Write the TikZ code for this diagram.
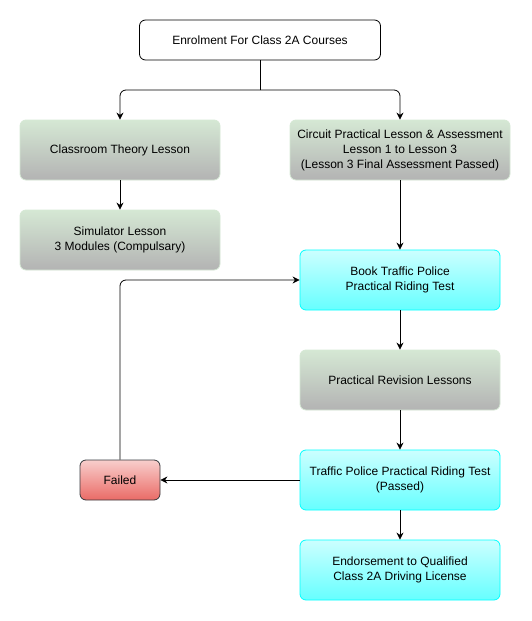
\documentclass[tikz,border=0pt]{standalone}
\usepackage{fontspec}
\setmainfont{Liberation Sans}
\usepackage{tikz}
\usetikzlibrary{arrows.meta, positioning, calc, shapes.misc}

\definecolor{greentop}{HTML}{D5E8D4}
\definecolor{greybottom}{HTML}{B3B3B3}
\definecolor{cyantop}{HTML}{CCFFFF}
\definecolor{cyanbottom}{HTML}{66FFFF}
\definecolor{cyanline}{HTML}{00FFFF}
\definecolor{redtop}{HTML}{F8CECC}
\definecolor{redbottom}{HTML}{EA6B66}
\definecolor{darkline}{HTML}{36393D}

\tikzset{
    box/.style = {rectangle, rounded corners=6pt, align=center, line width=0.8pt,
                  minimum width=200pt, minimum height=60pt, inner sep=0pt,
                  font=\fontsize{12}{15}\selectfont},
    lesson/.style = {box, draw=greentop, top color=greentop, bottom color=greybottom},
    exam/.style = {box, draw=cyanline, top color=cyantop, bottom color=cyanbottom},
    fail/.style = {box, draw=darkline, top color=redtop, bottom color=redbottom,
                   minimum width=80pt, minimum height=40pt},
    flow/.style = {-{Stealth[length=7pt, width=7pt]}, line width=0.8pt, rounded corners=6pt}
}

\begin{document}
\begin{tikzpicture}[x=1pt, y=1pt, node distance = 100pt]
    \useasboundingbox (0,0) rectangle (531,-621);
    \node[box, draw, fill=white, minimum width=241pt, minimum height=40pt] (enrol) at (260,-40) {Enrolment For Class 2A Courses};
    \node[lesson] (theory) at (120,-150) {Classroom Theory Lesson};
    \node[lesson, minimum width=220pt] (circuit) at (400,-150) {Circuit Practical Lesson \& Assessment\\Lesson 1 to Lesson 3\\(Lesson 3 Final Assessment Passed)};
    \node[lesson, below of=theory, node distance=90pt] (sim) {Simulator Lesson\\3 Modules (Compulsary)};
    \node[exam, below of=circuit, node distance=130pt] (book) {Book Traffic Police\\Practical Riding Test};
    \node[lesson, below of=book] (revision) {Practical Revision Lessons};
    \node[exam, below of=revision] (test) {Traffic Police Practical Riding Test\\(Passed)};
    \node[exam, below of=test, node distance=90pt] (licence) {Endorsement to Qualified\\Class 2A Driving License};
    \node[fail] (failed) at (120,-480) {Failed};
    \coordinate (split) at (260,-90);
    \draw[line width=0.8pt] (enrol) -- (split);
    \draw[flow] (split) -| (theory);
    \draw[flow] (split) -| (circuit);
    \draw[flow] (theory) -- (sim);
    \draw[flow] (circuit) -- (book);
    \draw[flow] (book) -- (revision);
    \draw[flow] (revision) -- (test);
    \draw[flow] (test) -- (licence);
    \draw[flow] (test) -- (failed);
    \draw[flow] (failed) |- (book);
\end{tikzpicture}
\end{document}
